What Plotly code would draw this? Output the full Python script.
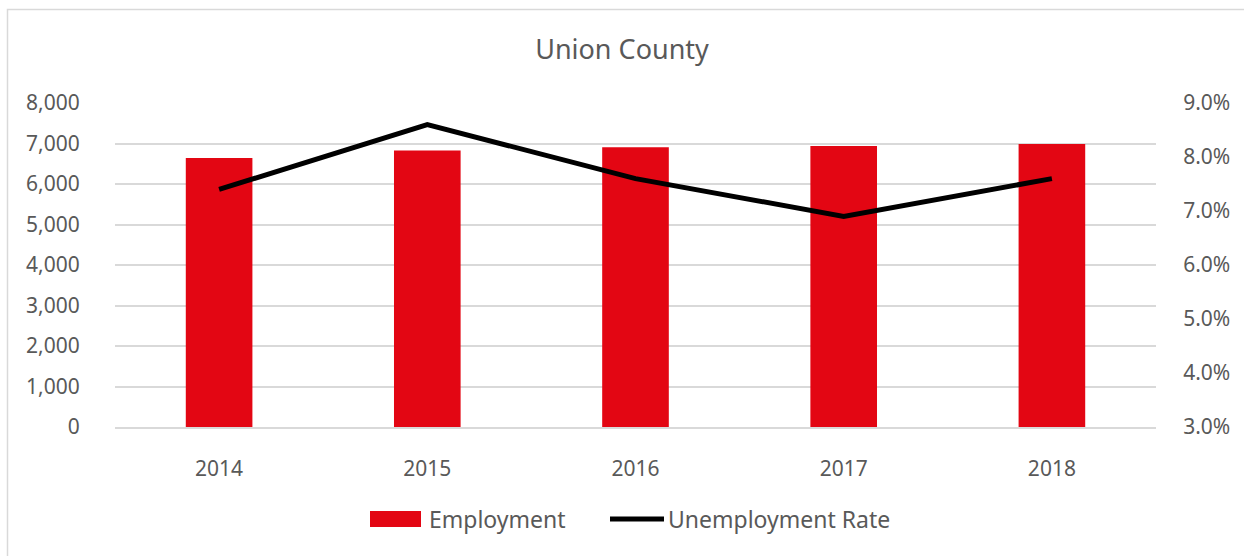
import plotly.graph_objects as go

years = ["2014", "2015", "2016", "2017", "2018"]
employment = [6640, 6830, 6905, 6940, 6990]
unemployment_rate = [7.4, 8.6, 7.6, 6.9, 7.6]

left_ticks = [0, 1000, 2000, 3000, 4000, 5000, 6000, 7000, 8000]
right_ticks = [3.0, 4.0, 5.0, 6.0, 7.0, 8.0, 9.0]

series_names = ["Employment", "Unemployment Rate"]
bar_color = "#E30613"
line_color = "#000000"

W, H = 1244, 556
ML, MR, MT, MB = 115, 88, 103, 129
PW, PH = W - ML - MR, H - MT - MB

TEXT = "#595959"
GRID = "#D9D9D9"
FONT = "Noto Sans, Open Sans, sans-serif"


def px_to_paper_x(px):
    return (px - ML) / PW


def px_to_paper_y(py):
    return (H - MB - py) / PH


fig = go.Figure()

fig.add_trace(go.Bar(
    x=years, y=employment, name=series_names[0],
    marker=dict(color=bar_color, line=dict(width=0)),
    width=0.32, yaxis="y",
))

fig.add_trace(go.Scatter(
    x=years, y=unemployment_rate, name=series_names[1],
    mode="lines", line=dict(color=line_color, width=5),
    yaxis="y2",
))

fig.update_layout(
    width=W, height=H,
    margin=dict(l=ML, r=MR, t=MT, b=MB),
    paper_bgcolor="white", plot_bgcolor="white",
    font=dict(family=FONT, color=TEXT, size=21),
    title=dict(text="Union County", x=0.5, xanchor="center",
               y=1 - 50 / H, yanchor="middle",
               font=dict(size=27, color=TEXT, family=FONT)),
    xaxis=dict(
        showgrid=False, showline=True, linecolor=GRID, linewidth=1.5,
        ticks="outside", ticklen=22, tickcolor="rgba(0,0,0,0)",
        tickfont=dict(size=21, color=TEXT), zeroline=False,
    ),
    yaxis=dict(
        range=[0, 8000], tickvals=left_ticks,
        tickformat=",d", showgrid=True, gridcolor=GRID, gridwidth=1.5,
        zeroline=False, showline=False,
        ticks="outside", ticklen=30, tickcolor="rgba(0,0,0,0)",
        tickfont=dict(size=21, color=TEXT),
    ),
    yaxis2=dict(
        range=[3.0, 9.0], tickvals=right_ticks,
        ticktext=[f"{v:.1f}%" for v in right_ticks],
        overlaying="y", side="right", showgrid=False, zeroline=False,
        ticks="outside", ticklen=22, tickcolor="rgba(0,0,0,0)",
        tickfont=dict(size=21, color=TEXT),
    ),
    showlegend=False,
)

# legend drawn below the axis: red swatch and thick black line key
legend_y = px_to_paper_y(519)
fig.add_shape(
    type="rect", xref="paper", yref="paper",
    x0=px_to_paper_x(370), x1=px_to_paper_x(421),
    y0=px_to_paper_y(527), y1=px_to_paper_y(511),
    fillcolor=bar_color, line=dict(width=0),
)
fig.add_shape(
    type="line", xref="paper", yref="paper",
    x0=px_to_paper_x(610), x1=px_to_paper_x(664),
    y0=legend_y, y1=legend_y,
    line=dict(color=line_color, width=5),
)
fig.add_annotation(
    text=series_names[0], xref="paper", yref="paper",
    x=px_to_paper_x(427), y=legend_y, xanchor="left", yanchor="middle",
    showarrow=False, font=dict(size=23, color=TEXT, family=FONT),
)
fig.add_annotation(
    text=series_names[1], xref="paper", yref="paper",
    x=px_to_paper_x(666), y=legend_y, xanchor="left", yanchor="middle",
    showarrow=False, font=dict(size=23, color=TEXT, family=FONT),
)

# chart frame
fig.add_shape(
    type="rect", xref="paper", yref="paper",
    x0=px_to_paper_x(7.5), x1=px_to_paper_x(1252),
    y0=px_to_paper_y(566), y1=px_to_paper_y(9.5),
    line=dict(color=GRID, width=1.5), fillcolor="rgba(0,0,0,0)",
    layer="below",
)

fig.write_html("out.html")
